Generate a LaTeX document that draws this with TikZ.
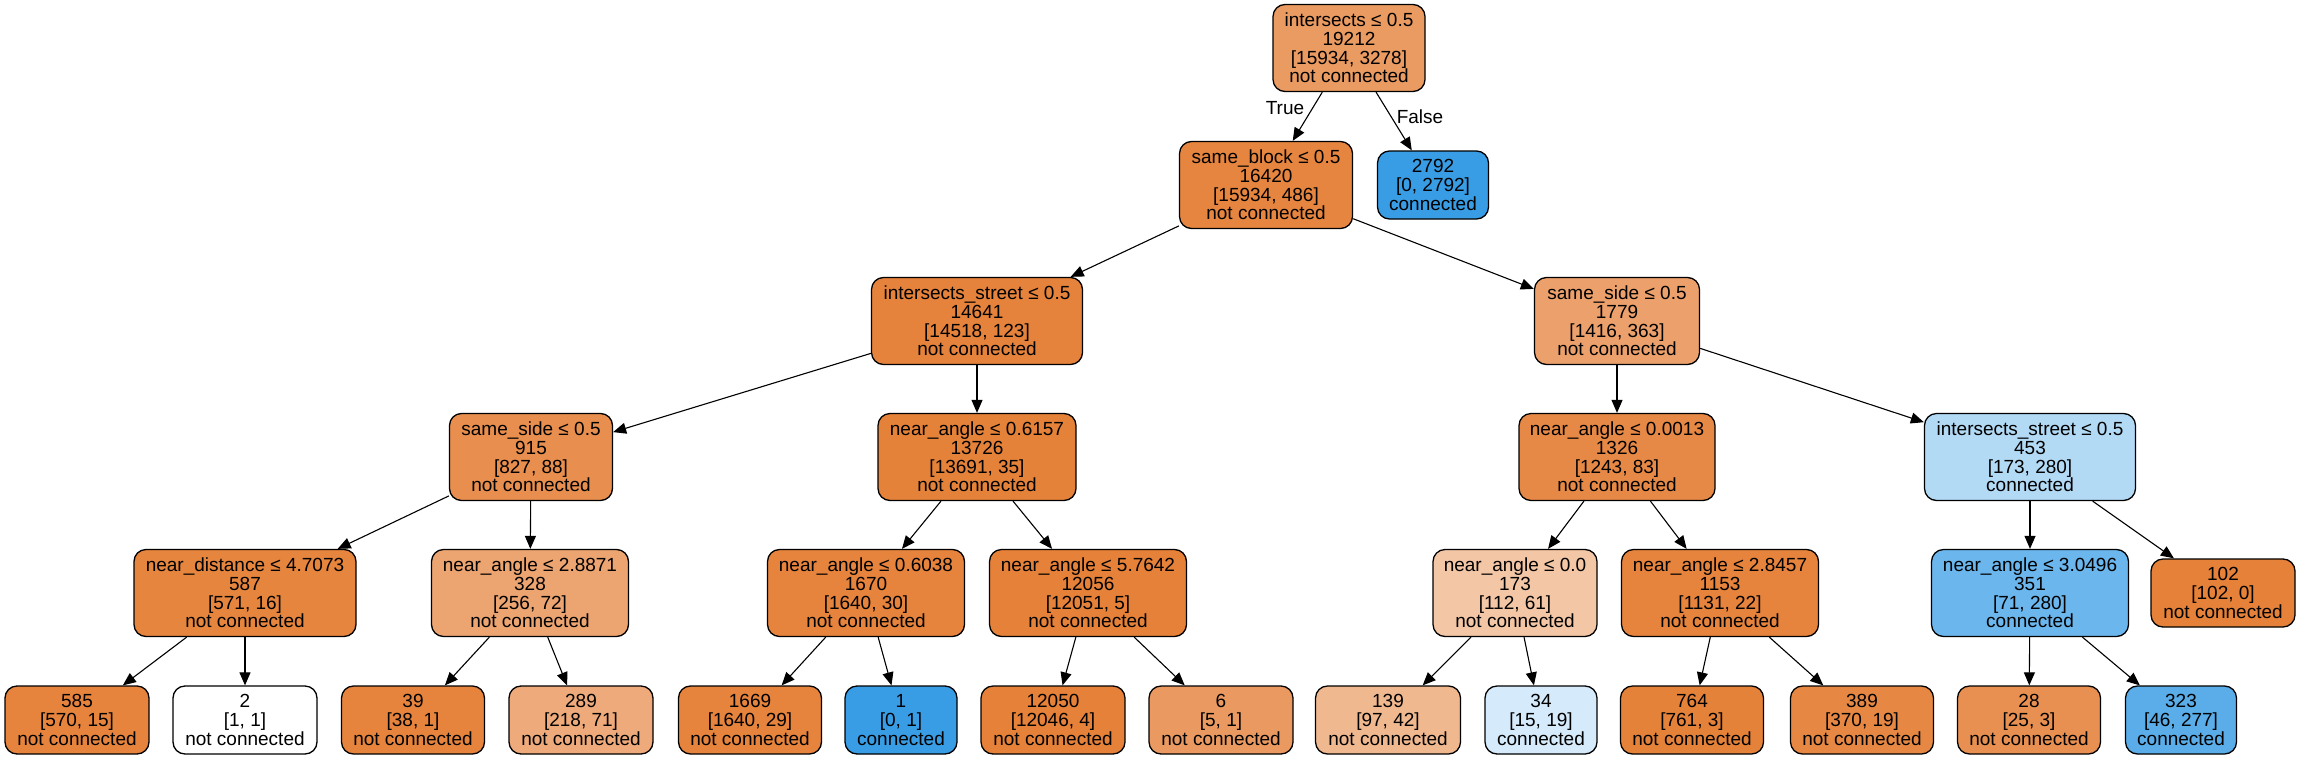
\documentclass[tikz,border=0pt]{standalone}
\usepackage{fontspec}
\setmainfont{Liberation Sans}
\usetikzlibrary{arrows.meta}
\definecolor{c0}{RGB}{234,155,98}
\definecolor{c1}{RGB}{230,133,63}
\definecolor{cblue}{RGB}{57,157,229}
\definecolor{c2}{RGB}{229,130,59}
\definecolor{c3}{RGB}{236,161,108}
\definecolor{c4}{RGB}{232,142,78}
\definecolor{c5}{RGB}{229,130,58}
\definecolor{c6}{RGB}{231,137,70}
\definecolor{c7}{RGB}{179,218,245}
\definecolor{c8}{RGB}{230,133,62}
\definecolor{c9}{RGB}{236,164,113}
\definecolor{c10}{RGB}{230,131,61}
\definecolor{c11}{RGB}{229,129,57}
\definecolor{c12}{RGB}{243,198,165}
\definecolor{c13}{RGB}{107,182,236}
\definecolor{l1}{RGB}{230,132,62}
\definecolor{l2}{RGB}{238,170,122}
\definecolor{l3}{RGB}{234,154,97}
\definecolor{l4}{RGB}{240,184,143}
\definecolor{l5}{RGB}{213,234,250}
\definecolor{l6}{RGB}{230,136,67}
\definecolor{l7}{RGB}{232,144,81}
\definecolor{l8}{RGB}{90,173,233}
\tikzset{
  box/.style={draw=black, line width=1.3pt, rounded corners=12pt, inner sep=0pt,
    align=center, minimum height=87pt, font=\fontsize{19}{18.7}\selectfont},
  leaf/.style={box, minimum height=68pt},
  edge/.style={line width=1.1pt, -{Triangle[length=13pt,width=11pt]}},
  elabel/.style={font=\fontsize{19}{19}\selectfont, inner sep=0pt}
}
\begin{document}
\begin{tikzpicture}[x=1pt,y=-1pt]
\useasboundingbox (0,0) rectangle (2301,760);
% level 0
\node[box, fill=c0, minimum width=152pt] (root) at (1349,48) {intersects ≤ 0.5\\19212\\{[15934, 3278]}\\not connected};
% level 1
\node[box, fill=c1, minimum width=173pt] (sb) at (1266,185) {same\_block ≤ 0.5\\16420\\{[15934, 486]}\\not connected};
\node[leaf, fill=cblue, minimum width=111pt] (l2792) at (1433,185) {2792\\{[0, 2792]}\\connected};
% level 2
\node[box, fill=c2, minimum width=211pt] (is1) at (977,321) {intersects\_street ≤ 0.5\\14641\\{[14518, 123]}\\not connected};
\node[box, fill=c3, minimum width=165pt] (ss1) at (1617,321) {same\_side ≤ 0.5\\1779\\{[1416, 363]}\\not connected};
% level 3
\node[box, fill=c4, minimum width=163pt] (ss2) at (531,457) {same\_side ≤ 0.5\\915\\{[827, 88]}\\not connected};
\node[box, fill=c5, minimum width=198pt] (na1) at (977,457) {near\_angle ≤ 0.6157\\13726\\{[13691, 35]}\\not connected};
\node[box, fill=c6, minimum width=196pt] (na2) at (1617,457) {near\_angle ≤ 0.0013\\1326\\{[1243, 83]}\\not connected};
\node[box, fill=c7, minimum width=211pt] (is2) at (2030,457) {intersects\_street ≤ 0.5\\453\\{[173, 280]}\\connected};
% level 4
\node[box, fill=c8, minimum width=222pt] (nd) at (245,593) {near\_distance ≤ 4.7073\\587\\{[571, 16]}\\not connected};
\node[box, fill=c9, minimum width=197pt] (na3) at (530,593) {near\_angle ≤ 2.8871\\328\\{[256, 72]}\\not connected};
\node[box, fill=c10, minimum width=197pt] (na4) at (866,593) {near\_angle ≤ 0.6038\\1670\\{[1640, 30]}\\not connected};
\node[box, fill=c11, minimum width=197pt] (na5) at (1088,593) {near\_angle ≤ 5.7642\\12056\\{[12051, 5]}\\not connected};
\node[box, fill=c12, minimum width=164pt] (na6) at (1515,593) {near\_angle ≤ 0.0\\173\\{[112, 61]}\\not connected};
\node[box, fill=c10, minimum width=197pt] (na7) at (1720,593) {near\_angle ≤ 2.8457\\1153\\{[1131, 22]}\\not connected};
\node[box, fill=c13, minimum width=197pt] (na8) at (2030,593) {near\_angle ≤ 3.0496\\351\\{[71, 280]}\\connected};
\node[leaf, fill=c11, minimum width=144pt] (l102) at (2223,593) {102\\{[102, 0]}\\not connected};
% level 5
\node[leaf, fill=l1, minimum width=144pt] (l585) at (77,720) {585\\{[570, 15]}\\not connected};
\node[leaf, fill=white, minimum width=144pt] (l2) at (245,720) {2\\{[1, 1]}\\not connected};
\node[leaf, fill=l1, minimum width=143pt] (l39) at (413,720) {39\\{[38, 1]}\\not connected};
\node[leaf, fill=l2, minimum width=144pt] (l289) at (581,720) {289\\{[218, 71]}\\not connected};
\node[leaf, fill=c10, minimum width=143pt] (l1669) at (750,720) {1669\\{[1640, 29]}\\not connected};
\node[leaf, fill=cblue, minimum width=112pt] (l1) at (901,720) {1\\{[0, 1]}\\connected};
\node[leaf, fill=c11, minimum width=144pt] (l12050) at (1053,720) {12050\\{[12046, 4]}\\not connected};
\node[leaf, fill=l3, minimum width=144pt] (l6) at (1221,720) {6\\{[5, 1]}\\not connected};
\node[leaf, fill=l4, minimum width=145pt] (l139) at (1388,720) {139\\{[97, 42]}\\not connected};
\node[leaf, fill=l5, minimum width=112pt] (l34) at (1541,720) {34\\{[15, 19]}\\connected};
\node[leaf, fill=c5, minimum width=143pt] (l764) at (1692,720) {764\\{[761, 3]}\\not connected};
\node[leaf, fill=l6, minimum width=143pt] (l389) at (1862,720) {389\\{[370, 19]}\\not connected};
\node[leaf, fill=l7, minimum width=143pt] (l28) at (2029,720) {28\\{[25, 3]}\\not connected};
\node[leaf, fill=l8, minimum width=111pt] (l323) at (2181,720) {323\\{[46, 277]}\\connected};
% edges
\draw[edge] (root) -- (sb);
\draw[edge] (root) -- (l2792);
\draw[edge] (sb) -- (is1);
\draw[edge] (sb) -- (ss1);
\draw[edge] (is1) -- (ss2);
\draw[edge] (is1) -- (na1);
\draw[edge] (ss1) -- (na2);
\draw[edge] (ss1) -- (is2);
\draw[edge] (ss2) -- (nd);
\draw[edge] (ss2) -- (na3);
\draw[edge] (na1) -- (na4);
\draw[edge] (na1) -- (na5);
\draw[edge] (na2) -- (na6);
\draw[edge] (na2) -- (na7);
\draw[edge] (is2) -- (na8);
\draw[edge] (is2) -- (l102);
\draw[edge] (nd) -- (l585);
\draw[edge] (nd) -- (l2);
\draw[edge] (na3) -- (l39);
\draw[edge] (na3) -- (l289);
\draw[edge] (na4) -- (l1669);
\draw[edge] (na4) -- (l1);
\draw[edge] (na5) -- (l12050);
\draw[edge] (na5) -- (l6);
\draw[edge] (na6) -- (l139);
\draw[edge] (na6) -- (l34);
\draw[edge] (na7) -- (l764);
\draw[edge] (na7) -- (l389);
\draw[edge] (na8) -- (l28);
\draw[edge] (na8) -- (l323);
% edge labels
\node[elabel] (tlab) at (1285,108) {True};
\node[elabel] (flab) at (1420,117) {False};
\end{tikzpicture}
\end{document}
